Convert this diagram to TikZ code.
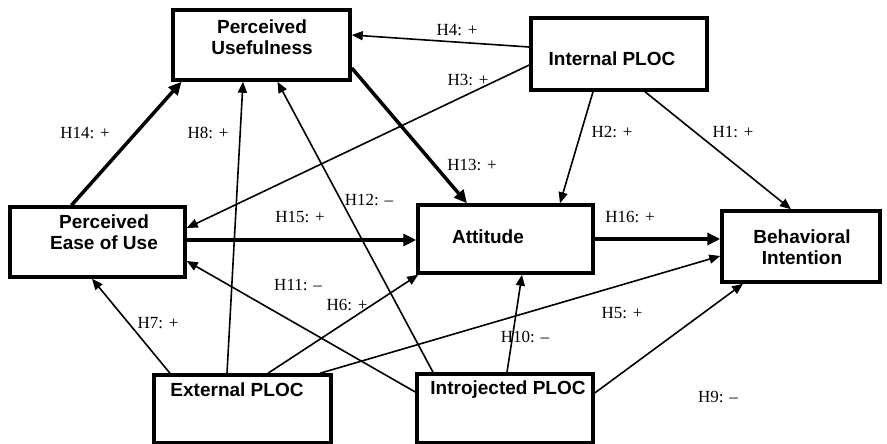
\documentclass[tikz,border=0pt]{standalone}
\usepackage{fontspec}
\setmainfont{Liberation Serif}
\newfontfamily\boxfont{Liberation Sans}
\usetikzlibrary{arrows.meta}
\begin{document}
\begin{tikzpicture}[x=1pt,y=-1pt,
  box/.style={draw, line width=3.5pt, inner sep=0pt, rectangle},
  boxtext/.style={font=\boxfont\bfseries\fontsize{19}{21}\selectfont, align=center, inner sep=0pt},
  lbl/.style={font=\fontsize{17}{19}\selectfont, inner sep=0pt},
  thin/.style={line width=1.6pt, -{Triangle[length=11pt,width=9pt]}},
  thick/.style={line width=3.5pt, -{Triangle[length=13pt,width=12pt]}}]
\useasboundingbox (0,0) rectangle (887,444);
% boxes
\node[box, minimum width=177pt, minimum height=70pt] (pu) at (261.5,45) {};
\node[box, minimum width=176pt, minimum height=72pt] (ip) at (619,54) {};
\node[box, minimum width=175pt, minimum height=70pt] (peou) at (97.5,242) {};
\node[box, minimum width=175pt, minimum height=68pt] (att) at (505.5,239) {};
\node[box, minimum width=158pt, minimum height=71pt] (bi) at (801,246.5) {};
\node[box, minimum width=177pt, minimum height=68pt] (ext) at (242.5,409) {};
\node[box, minimum width=176pt, minimum height=69pt] (int) at (505,408.5) {};
% box texts
\node[boxtext] (put) at (262,37) {Perceived\\Usefulness};
\node[boxtext] (ipt) at (612,59) {Internal PLOC};
\node[boxtext] (peout) at (104,232) {Perceived\\Ease of Use};
\node[boxtext] (attt) at (488,237) {Attitude};
\node[boxtext] (bit) at (802,247) {Behavioral\\Intention};
\node[boxtext] (extt) at (237,390) {External PLOC};
\node[boxtext] (intt) at (508,390) {Introjected PLOC};
% connectors
\draw[thin] ([yshift=7pt]ip.west) -- ([yshift=10pt]pu.east);
\draw[thin] ([yshift=-11pt]ip.west) -- ([yshift=14pt]peou.east);
\draw[thick] ([yshift=-23pt]pu.east) -- ([xshift=-38.5pt]att.north);
\draw[thin] ([xshift=-26pt]ip.south) -- ([xshift=54.5pt]att.north);
\draw[thin] ([xshift=26pt]ip.south) -- ([xshift=-10pt]bi.north);
\draw[thick] ([xshift=-26pt]peou.north) -- ([xshift=-80pt]pu.south);
\draw[thin] ([xshift=-15.5pt]ext.north) -- ([xshift=-18.5pt]pu.south);
\draw[thin] ([xshift=-72pt]int.north) -- ([xshift=16pt]pu.south);
\draw[thick] ([yshift=2pt]peou.east) -- ([yshift=-1pt]att.west);
\draw[thick] (att.east) -- ([yshift=7.5pt]bi.west);
\draw[thin] ([yshift=16.5pt]int.west) -- ([yshift=-19pt]peou.east);
\draw[thin] ([xshift=25.5pt]ext.north) -- ([xshift=2pt]att.south west);
\draw[thin] ([xshift=77.5pt]ext.north) -- ([yshift=-9.5pt]bi.west);
\draw[thin] ([xshift=-72.5pt]ext.north) -- ([xshift=-5.5pt]peou.south);
\draw[thin] ([xshift=2pt]int.north) -- ([xshift=16.5pt]att.south);
\draw[thin] ([yshift=15.5pt]int.east) -- ([xshift=-58pt]bi.south);
% labels
\node[lbl] (l4) at (457,30) {H4: +};
\node[lbl] (l3) at (468,80) {H3: +};
\node[lbl] (l13) at (472,165) {H13: +};
\node[lbl] (l2) at (612,132) {H2: +};
\node[lbl] (l1) at (733,132) {H1: +};
\node[lbl] (l14) at (85,133) {H14: +};
\node[lbl] (l8) at (208,133) {H8: +};
\node[lbl] (l12) at (369,200) {H12: –};
\node[lbl] (l15) at (300,217) {H15: +};
\node[lbl] (l16) at (630,217) {H16: +};
\node[lbl] (l11) at (298,285) {H11: –};
\node[lbl] (l6) at (347,305) {H6: +};
\node[lbl] (l7) at (158,323) {H7: +};
\node[lbl] (l5) at (622,313) {H5: +};
\node[lbl] (l10) at (525,337) {H10: –};
\node[lbl] (l9) at (718,397) {H9: –};
\end{tikzpicture}
\end{document}
